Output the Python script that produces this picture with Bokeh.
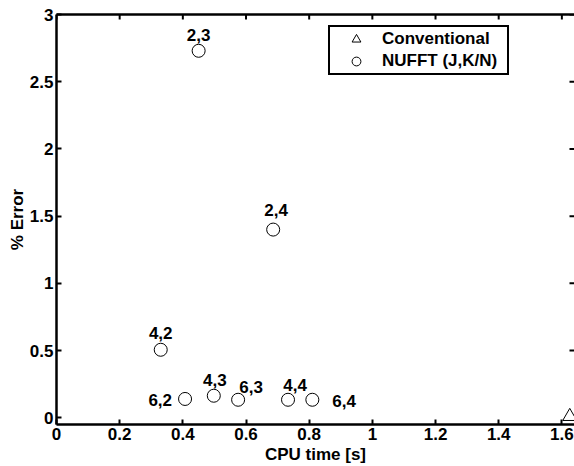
import math
from bokeh.plotting import figure
from bokeh.models import (Range1d, LinearAxis, FixedTicker, ColumnDataSource,
                          Legend, LegendItem)
from bokeh.core.properties import value
from bokeh.embed import file_html
from bokeh.resources import INLINE

# ---- data ----
nufft_labels = ["2,3", "2,4", "4,2", "6,2", "4,3", "6,3", "4,4", "6,4"]
nufft_cpu = [0.45, 0.686, 0.33, 0.407, 0.498, 0.575, 0.733, 0.81]
nufft_err = [2.73, 1.40, 0.506, 0.14, 0.164, 0.134, 0.134, 0.134]
conv_cpu = [1.625]
conv_err = [0.01]
x_ticks = [0, 0.2, 0.4, 0.6, 0.8, 1.0, 1.2, 1.4, 1.6]
y_ticks = [0, 0.5, 1.0, 1.5, 2.0, 2.5, 3.0]
x_tick_labels = {0: "0", 0.2: "0.2", 0.4: "0.4", 0.6: "0.6", 0.8: "0.8",
                 1.0: "1", 1.2: "1.2", 1.4: "1.4", 1.6: "1.6"}
y_tick_labels = {0: "0", 0.5: "0.5", 1.0: "1", 1.5: "1.5", 2.0: "2",
                 2.5: "2.5", 3.0: "3"}

# label placement (styling, pixels)
lab_dx = [0, 3, 0, -13, 1, 13, 7, 20]
lab_dy = [-16, -20, -17, 1, -16, -13, -15, 1]
lab_align = ["center", "center", "center", "right", "center", "center", "center", "left"]

FONT = "Liberation Sans"
FS = "17px"

xr = Range1d(0, 1.64)
yr = Range1d(-0.05, 3.0)

p = figure(width=574, height=466, output_backend="svg", toolbar_location=None,
           x_range=xr, y_range=yr,
           min_border_left=56, min_border_right=0, min_border_top=14,
           min_border_bottom=41, x_axis_type=None, y_axis_type=None)
p.outline_line_color = None
p.xgrid.visible = False
p.ygrid.visible = False
p.background_fill_color = "white"
p.border_fill_color = "white"

def style_axis(ax, ticks, overrides):
    ax.ticker = FixedTicker(ticks=ticks)
    ax.major_label_overrides = overrides
    ax.minor_tick_line_color = None
    ax.major_tick_in = 5
    ax.major_tick_out = 0
    ax.major_tick_line_width = 2
    ax.major_tick_line_color = "black"
    ax.axis_line_width = 2.5
    ax.axis_line_color = "black"
    ax.major_label_text_font = FONT
    ax.major_label_text_font_style = "bold"
    ax.major_label_text_font_size = FS
    ax.major_label_text_color = "black"
    ax.axis_label_text_font = FONT
    ax.axis_label_text_font_style = "bold"
    ax.axis_label_text_font_size = FS
    ax.axis_label_text_color = "black"

xb = LinearAxis(axis_label="CPU time [s]")
style_axis(xb, x_ticks, x_tick_labels)
xb.major_label_standoff = 3
xb.axis_label_standoff = 2
p.add_layout(xb, "below")

yl = LinearAxis(axis_label="% Error")
style_axis(yl, y_ticks, y_tick_labels)
yl.major_label_standoff = 3
yl.axis_label_standoff = 0
p.add_layout(yl, "left")

# top spine (line only)
xt = LinearAxis(ticker=FixedTicker(ticks=[]), axis_line_width=2.5,
                axis_line_color="black", minor_tick_line_color=None,
                major_tick_line_color=None)
p.add_layout(xt, "above")

# inward ticks on top and right edges (half of each dash is clipped by the frame)
p.scatter(x_ticks, [yr.end] * len(x_ticks), marker="dash", angle=math.pi / 2,
          size=10, line_color="black", line_width=2)
p.scatter([xr.end] * len(y_ticks), y_ticks, marker="dash",
          size=10, line_color="black", line_width=2)

src = ColumnDataSource(dict(x=nufft_cpu, y=nufft_err, lab=nufft_labels,
                            dx=lab_dx, dy=lab_dy, al=lab_align))
r_conv = p.scatter(conv_cpu, conv_err, marker="triangle", size=14,
                   fill_color="white", line_color="black", line_width=1)
r_nufft = p.scatter("x", "y", source=src, marker="circle", size=13,
                    fill_color="white", line_color="black", line_width=1)
p.text("x", "y", text="lab", source=src, x_offset="dx", y_offset="dy",
       text_align="al", text_baseline="middle", text_font=value(FONT),
       text_font_style="bold", text_font_size=FS, text_color="black")

legend = Legend(items=[LegendItem(label="Conventional", renderers=[r_conv]),
                       LegendItem(label="NUFFT (J,K/N)", renderers=[r_nufft])],
                location=(272, 349),
                padding=dict(left=0, right=10, top=1, bottom=1),
                spacing=0, glyph_width=52,
                glyph_height=22, label_height=22, label_standoff=0, margin=0,
                border_line_color="black", border_line_width=2,
                border_line_alpha=1,
                label_text_font=FONT, label_text_font_style="bold",
                label_text_font_size=FS, label_text_color="black",
                background_fill_color="white", background_fill_alpha=1)
p.add_layout(legend, "center")

open("out.html", "w").write(file_html(p, INLINE))
